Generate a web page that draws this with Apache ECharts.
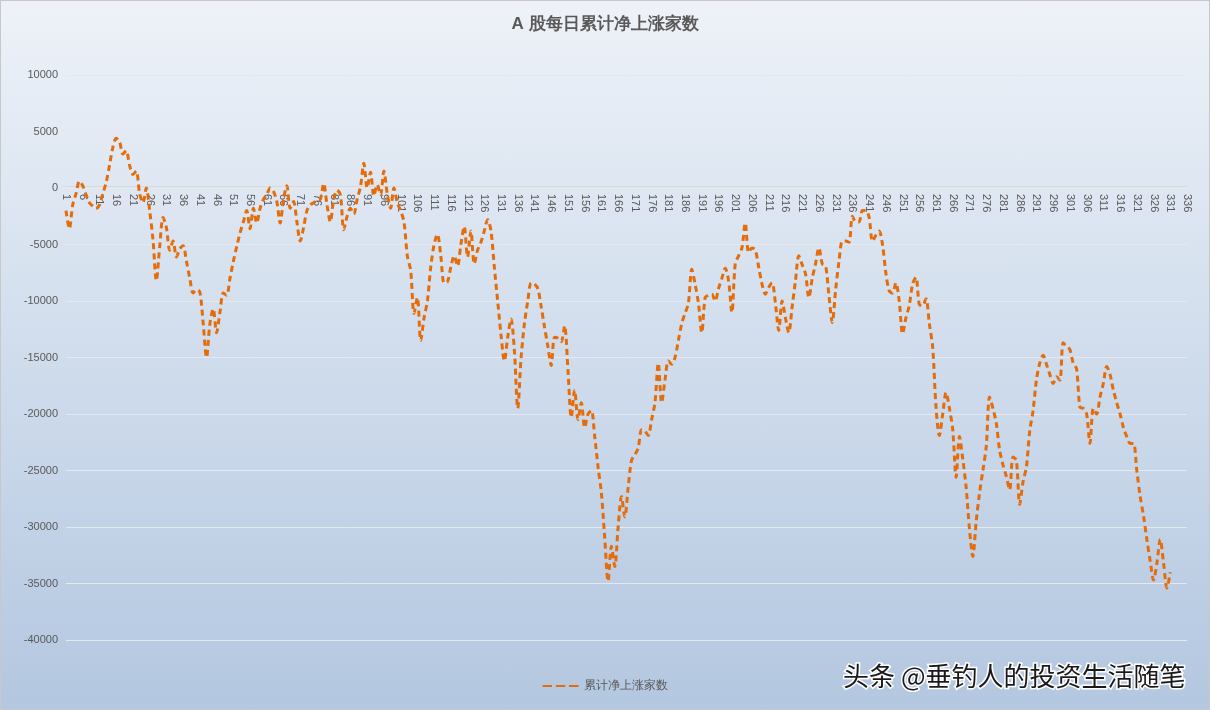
<!DOCTYPE html>
<html>
<head>
<meta charset="utf-8">
<script src="https://cdn.jsdelivr.net/npm/echarts@6/dist/echarts.min.js"></script>
<style>
  html, body { margin: 0; padding: 0; }
  #main { width: 1210px; height: 710px; box-sizing: border-box; border: 1px solid #c8c8c8;
          background: linear-gradient(#eef2f8, #d6e1ef 40%, #b3c7e0); }
</style>
</head>
<body>
<div id="main"></div>
<script>
    var days = [];
    for (var d = 1; d <= 336; d++) days.push(String(d));

    var netAdvance = [
        -2000, -3600, -1500, -500, 600, 200, -600, -1300, -1600, -1800,
        -1500, -500, 500, 2000, 3600, 4400, 4100, 3000, 3300, 2000,
        1200, 1500, -500, -1300, 0, -2000, -4600, -8200, -5200, -2600,
        -3500, -5500, -4700, -6100, -5400, -5100, -6500, -8000, -9300, -9000,
        -9200, -12000, -15000, -12000, -10700, -12800, -11000, -9300, -9500, -8000,
        -6500, -5200, -4000, -3000, -2000, -3600, -1800, -3100, -1800, -1000,
        -600, 0, -300, -1200, -3100, -1000, 200, -1800, -1200, -3000,
        -4700, -3500, -2000, -1500, -1300, -1100, -1000, 400, -1500, -3000,
        -1000, -200, -600, -3700, -2500, -1800, -2300, -1000, 100, 2200,
        0, 1400, -700, 300, -600, 1500, -500, -1800, 0, -1300,
        -2000, -3000, -6000, -7300, -11100, -9700, -13500, -11500, -10000, -7000,
        -5000, -4100, -6000, -8400, -8300, -7000, -6000, -6900, -5000, -3400,
        -6100, -3800, -6700, -5500, -4800, -3800, -2800, -3800, -7000, -10000,
        -13000, -15300, -13200, -11600, -14400, -19500, -15000, -12000, -10000, -8400,
        -8500, -8900, -10500, -12300, -14000, -15700, -13200, -13300, -13600, -12200,
        -16100, -20300, -17900, -20500, -19000, -21200, -20000, -19700, -22000, -24700,
        -27000, -31000, -34800, -31700, -33500, -30000, -27300, -29100, -26500, -24100,
        -23600, -23000, -21400, -21500, -21900, -20500, -19000, -15500, -19000, -17000,
        -15300, -15600, -15000, -13500, -12000, -11100, -10200, -7200, -8500, -10200,
        -12800, -9700, -9500, -9400, -10000, -8900, -8000, -7100, -8200, -11000,
        -6700, -6000, -5300, -3100, -5700, -5300, -5500, -7000, -8500, -9400,
        -8800, -8400, -10200, -12600, -10000, -11500, -12800, -10500, -8200, -6000,
        -6800, -7600, -9700, -8000, -6700, -5300, -6700, -6900, -9500, -11900,
        -9000, -6500, -4700, -4700, -4800, -2500, -3000, -3000, -2000, -2000,
        -2600, -4700, -4200, -3800, -5000, -7500, -9100, -9300, -8400, -10000,
        -12900, -11500, -10400, -8500, -7900, -10300, -10400, -9800, -12000, -14100,
        -19400, -21900, -20000, -18100, -19500, -21400, -25600, -22000, -24000, -26500,
        -30200, -32600, -29500, -27000, -25000, -22900, -18500, -19500, -20800, -23200,
        -24500, -25500, -26700, -23800, -24100, -28000, -26000, -24700, -21500, -19700,
        -17000, -15500, -14800, -15600, -16500, -17300, -16700, -17000, -13700, -14000,
        -14300, -15500, -16000, -19400, -19500, -20000, -22600, -19500, -20000, -18500,
        -17300, -15800, -16500, -17900, -19000, -20000, -21200, -22000, -22600, -22600,
        -25000, -27300, -29000, -31100, -33000, -34700, -33200, -31100, -33200, -35400,
        -34000
    ];

    var myChart = echarts.init(document.getElementById('main'));
    option = {
        title: {
            text: 'A 股每日累计净上涨家数',
            left: 'center',
            top: 10,
            textStyle: { color: '#595959', fontSize: 17, fontWeight: 'bold' }
        },
        legend: {
            bottom: 12,
            left: 'center',
            itemWidth: 36,
            icon: 'path://M0,0 H10 V2 H0 Z M14,0 H24 V2 H14 Z M28,0 H38 V2 H28 Z',
            textStyle: { color: '#595959', fontSize: 12 }
        },
        grid: { left: 65, right: 22, top: 74, bottom: 69 },
        xAxis: {
            type: 'category',
            data: days,
            boundaryGap: false,
            offset: -454,
            axisLine: { onZero: false, lineStyle: { color: '#d9d9d9' } },
            axisTick: { show: false },
            axisLabel: { interval: 4, rotate: -90, color: '#595959', fontSize: 11, hideOverlap: false }
        },
        yAxis: {
            type: 'value',
            min: -40000,
            max: 10000,
            interval: 5000,
            axisLabel: { color: '#595959', fontSize: 11, formatter: function (v) { return String(v); } },
            splitLine: { lineStyle: { color: '#e4e9f0' } }
        },
        series: [{
            name: '累计净上涨家数',
            type: 'line',
            data: netAdvance,
            symbol: 'none',
            smooth: 0.3,
            lineStyle: { color: '#e46c0a', width: 3, type: [6, 4] },
            itemStyle: { color: '#e46c0a' }
        }],
        graphic: [{
            type: 'text',
            right: 22,
            bottom: 18,
            style: {
                text: '头条 @垂钓人的投资生活随笔',
                font: '26px "Noto Sans CJK SC"',
                fill: '#1a1a1a',
                stroke: '#ffffff',
                lineWidth: 3
            }
        }]
    };
    myChart.setOption(option);
</script>
</body>
</html>
